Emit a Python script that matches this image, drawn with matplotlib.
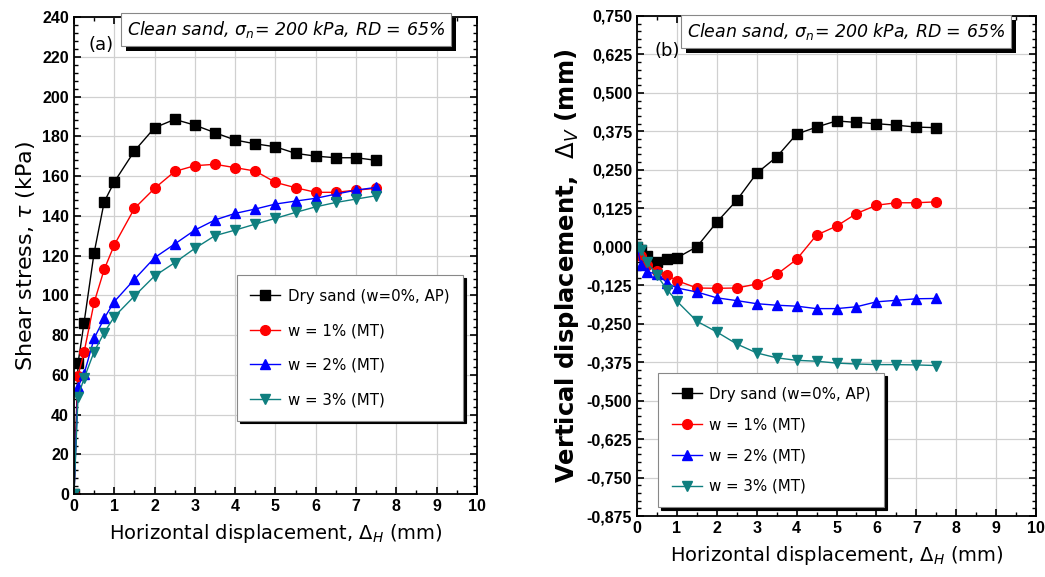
import numpy as np
import matplotlib
matplotlib.use("Agg")
import matplotlib.pyplot as plt
import matplotlib.transforms as mtransforms
from matplotlib.patches import Rectangle
from matplotlib.ticker import MultipleLocator, AutoMinorLocator, FuncFormatter

# Horizontal displacement (mm)
dh = [0, 0.1, 0.25, 0.5, 0.75, 1, 1.5, 2, 2.5, 3, 3.5, 4, 4.5, 5, 5.5, 6, 6.5, 7, 7.5]

# Shear stress (kPa)
tau_dry = [0, 65.7, 86.2, 121.4, 147.0, 157.0, 172.6, 184.3, 188.5, 185.6, 181.8,
           178.1, 176.2, 174.7, 171.4, 170.0, 169.2, 169.2, 167.9]
tau_w1 = [0, 59.4, 71.3, 96.4, 113.0, 125.3, 143.7, 153.8, 162.3, 165.2, 165.9,
          164.2, 162.5, 156.8, 154.1, 151.8, 151.8, 152.9, 153.8]
tau_w2 = [0, 54.0, 60.4, 78.3, 88.4, 96.8, 108.0, 118.9, 125.8, 132.8, 137.9,
          141.2, 143.4, 145.9, 147.4, 148.8, 150.9, 152.9, 154.3]
tau_w3 = [0, 49.0, 58.2, 71.6, 81.2, 89.2, 99.6, 109.7, 116.4, 123.6, 130.0,
          132.8, 135.8, 138.7, 141.7, 144.5, 146.7, 148.4, 150.1]

# Vertical displacement (mm)
dv_dry = [0, -0.010, -0.030, -0.049, -0.039, -0.036, 0.000, 0.080, 0.151, 0.239, 0.292,
          0.366, 0.389, 0.409, 0.404, 0.400, 0.395, 0.389, 0.387]
dv_w1 = [0, -0.030, -0.060, -0.080, -0.092, -0.110, -0.134, -0.135, -0.134, -0.121, -0.090,
         -0.041, 0.038, 0.067, 0.108, 0.135, 0.143, 0.143, 0.146]
dv_w2 = [0, -0.060, -0.083, -0.087, -0.117, -0.134, -0.147, -0.166, -0.175, -0.185, -0.190,
         -0.193, -0.201, -0.201, -0.195, -0.179, -0.174, -0.169, -0.168]
dv_w3 = [0, -0.010, -0.050, -0.093, -0.139, -0.177, -0.242, -0.277, -0.316, -0.345, -0.361,
         -0.369, -0.372, -0.378, -0.381, -0.383, -0.383, -0.384, -0.386]

labels = ["Dry sand (w=0%, AP)", "w = 1% (MT)", "w = 2% (MT)", "w = 3% (MT)"]
colors = ["black", "red", "blue", "#0f7f7f"]
markers = ["s", "o", "^", "v"]
box_text = "Clean sand, σ$_n$= 200 kPa, RD = 65%"

fig = plt.figure(figsize=(10.45, 5.77), dpi=100)
ax1 = fig.add_axes([0.0708, 0.1438, 0.3856, 0.8267])
ax2 = fig.add_axes([0.6096, 0.1057, 0.3818, 0.8666])


def draw(ax, series):
    for y, lab, c, m in zip(series, labels, colors, markers):
        ax.plot(dh, y, color=c, lw=1.0, marker=m, ms=7, mfc=c, mec=c, label=lab)


def style(ax):
    ax.set_xlim(0, 10)
    ax.xaxis.set_major_locator(MultipleLocator(1))
    ax.xaxis.set_minor_locator(AutoMinorLocator(2))
    ax.yaxis.set_minor_locator(AutoMinorLocator(5))
    ax.grid(True, which="major", color="#d0d0d0", lw=0.9)
    ax.set_axisbelow(True)
    ax.tick_params(which="both", direction="in", top=True, right=True)
    ax.tick_params(which="major", length=5, width=1.2, labelsize=11.5)
    ax.tick_params(which="minor", length=3, width=1.0)
    for lab in ax.get_xticklabels() + ax.get_yticklabels():
        lab.set_fontweight("bold")
        lab.set_family("Liberation Sans")
    for s in ax.spines.values():
        s.set_linewidth(1.3)
    ax.set_xlabel("Horizontal displacement, $\\Delta_H$ (mm)", fontsize=14, labelpad=6)


def title_box(ax, x, y):
    return ax.text(x, y, box_text, transform=ax.transAxes, ha="center", va="top",
                   fontsize=12.5, style="italic", zorder=6,
                   bbox=dict(boxstyle="square,pad=0.35", fc="white", ec="#888888", lw=0.8))


def legend(ax, anchor, spacing):
    leg = ax.legend(loc="upper left", bbox_to_anchor=anchor, fontsize=10.8,
                    fancybox=False, framealpha=1, edgecolor="#888888",
                    handlelength=2.0, borderpad=0.9, labelspacing=spacing,
                    handletextpad=0.5, borderaxespad=0,
                    shadow={"color": "black", "alpha": 1})
    leg.get_frame().set_linewidth(0.8)


# (a) shear stress
draw(ax1, [tau_dry, tau_w1, tau_w2, tau_w3])
ax1.set_ylim(0, 240)
ax1.yaxis.set_major_locator(MultipleLocator(20))
style(ax1)
ax1.set_ylabel("Shear stress, $\\tau$ (kPa)", fontsize=16)
ax1.text(0.035, 0.93, "(a)", transform=ax1.transAxes, fontsize=13)
t1 = title_box(ax1, 0.526, 0.995)
legend(ax1, (0.404, 0.459), 1.3)

# (b) vertical displacement
draw(ax2, [dv_dry, dv_w1, dv_w2, dv_w3])
ax2.set_ylim(-0.875, 0.75)
ax2.yaxis.set_major_locator(MultipleLocator(0.125))
ax2.yaxis.set_major_formatter(FuncFormatter(lambda v, p: f"{v:.3f}".replace(".", ",")))
style(ax2)
ax2.set_ylabel("Vertical displacement,  $\\Delta_V$ (mm)", fontsize=17.5, fontweight="bold")
ax2.text(0.045, 0.92, "(b)", transform=ax2.transAxes, fontsize=13)
t2 = title_box(ax2, 0.524, 0.99)
legend(ax2, (0.053, 0.286), 1.05)

# black drop shadows behind the title boxes
fig.canvas.draw()
for ax, t in [(ax1, t1), (ax2, t2)]:
    bb = t.get_bbox_patch().get_window_extent()
    ax.add_patch(Rectangle((bb.x0 + 5, bb.y0 - 5), bb.width, bb.height,
                           transform=mtransforms.IdentityTransform(),
                           fc="black", ec="none", zorder=5, clip_on=False))

fig.savefig("out.png", dpi=100)
